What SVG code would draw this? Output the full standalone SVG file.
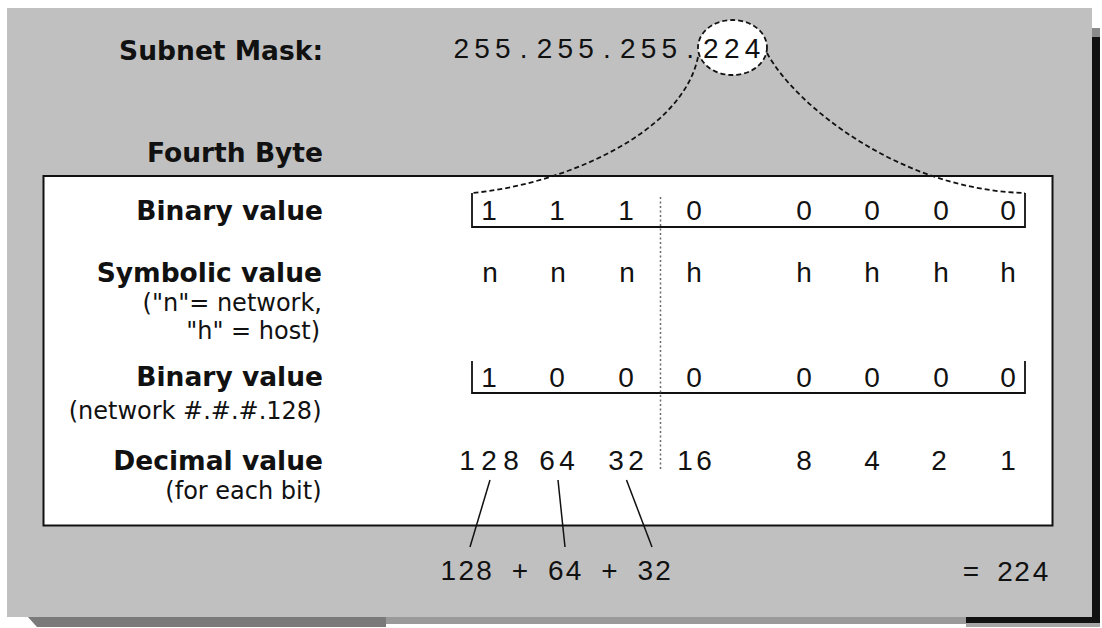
<svg xmlns="http://www.w3.org/2000/svg" width="1102" height="628" viewBox="0 0 1102 628">
  <style>
    .lbl { font-family: "DejaVu Sans", "Liberation Sans", sans-serif; font-weight: bold; font-size: 26.5px; fill: #111; text-anchor: end; }
    .sub { font-family: "DejaVu Sans", "Liberation Sans", sans-serif; font-size: 24px; fill: #111; text-anchor: end; }
    .num { font-family: "Liberation Sans", Arial, sans-serif; font-size: 28px; fill: #111; text-anchor: middle; }
    .dash { fill: none; stroke: #111; stroke-width: 1.8; stroke-dasharray: 5 3; }
    .solid { fill: none; stroke: #111; stroke-width: 1.8; }
    .thin { fill: none; stroke: #111; stroke-width: 1.5; }
    .dots { fill: none; stroke: #6a6a6a; stroke-width: 1.5; stroke-dasharray: 2 2.5; }
  </style>

  <rect width="1102" height="628" fill="#fff"/>

  <!-- drop shadow of the panel -->
  <g id="shadow">
    <rect x="1092" y="28" width="8" height="10" fill="#8a8a8a"/>
    <rect x="1092" y="37" width="8" height="586" fill="#111"/>
    <polygon points="27,616 386,616 386,627 37,627" fill="#7a7a7a"/>
    <rect x="386" y="616" width="580" height="8" fill="#9a9a9a"/>
    <rect x="966" y="622" width="134" height="5" fill="#a5a5a5"/>
    <rect x="966" y="616" width="134" height="7" fill="#111"/>
  </g>

  <!-- grey panel -->
  <rect id="panel" x="7" y="8" width="1085" height="609" fill="#c0c0c0"/>

  <!-- white table box -->
  <rect id="table" x="43.5" y="176" width="1009" height="349.5" fill="#fff" stroke="#111" stroke-width="2"/>

  <!-- subnet mask line -->
  <g id="mask">
    <text class="lbl" x="323" y="59.5" font-size="26.6">Subnet Mask:</text>
    <ellipse cx="732.5" cy="47.5" rx="34.5" ry="27.5" class="dash" style="fill:#fff"/>
    <text class="num" y="58" x="461.3 482.1 502.9 523.7 544.5 565.3 586.1 606.9 627.7 648.5 669.3 690.1 710.9 731.7 752.5">255.255.255.224</text>
  </g>

  <g id="fourth-byte">
    <text class="lbl" x="323" y="162">Fourth Byte</text>
  </g>

  <!-- row: binary value of the mask byte -->
  <g id="row-binary" class="num">
    <text class="lbl" x="323" y="220">Binary value</text>
    <text x="489" y="220">1</text>
    <text x="557" y="220">1</text>
    <text x="626" y="220">1</text>
    <text x="694" y="220">0</text>
    <text x="804" y="220">0</text>
    <text x="872" y="220">0</text>
    <text x="941" y="220">0</text>
    <text x="1008" y="220">0</text>
  </g>

  <!-- row: symbolic value -->
  <g id="row-symbolic" class="num">
    <text class="lbl" x="322" y="282">Symbolic value</text>
    <text class="sub" x="322" y="311">("n"= network,</text>
    <text class="sub" x="320" y="339">"h" = host)</text>
    <text x="490" y="282">n</text>
    <text x="558" y="282">n</text>
    <text x="627" y="282">n</text>
    <text x="694" y="282">h</text>
    <text x="804" y="282">h</text>
    <text x="872" y="282">h</text>
    <text x="941" y="282">h</text>
    <text x="1008" y="282">h</text>
  </g>

  <!-- row: binary value of the network -->
  <g id="row-network" class="num">
    <text class="lbl" x="323" y="386">Binary value</text>
    <text class="sub" x="321.5" y="419">(network #.#.#.128)</text>
    <text x="489" y="387">1</text>
    <text x="557" y="387">0</text>
    <text x="626" y="387">0</text>
    <text x="694" y="387">0</text>
    <text x="804" y="387">0</text>
    <text x="872" y="387">0</text>
    <text x="941" y="387">0</text>
    <text x="1008" y="387">0</text>
  </g>

  <!-- row: decimal weight of each bit -->
  <g id="row-decimal" class="num">
    <text class="lbl" x="323" y="470">Decimal value</text>
    <text class="sub" x="321.5" y="499">(for each bit)</text>
    <text y="470" x="467 489 511">128</text>
    <text y="470" x="547 567">64</text>
    <text y="470" x="616 636">32</text>
    <text y="470" x="685 704">16</text>
    <text x="804" y="470">8</text>
    <text x="872" y="470">4</text>
    <text x="939" y="470">2</text>
    <text x="1008" y="470">1</text>
  </g>

  <!-- sum line -->
  <g id="sum" class="num">
    <text y="580" x="448.3 466.2 484.1 502 519.9 537.8 555.7 573.6 591.5 609.4 627.3 645.2 663.1">128 + 64 + 32</text>
    <text y="581" x="971 988 1005 1022 1040.5">= 224</text>
  </g>

  <!-- connectors -->
  <g id="connectors">
    <path class="dash" d="M698 57 C682 135 560 185 472 193"/>
    <path class="dash" d="M767 53 C795 105 900 190 1025 193"/>
    <path class="solid" d="M472 193 V227 H1025 V193"/>
    <path class="solid" d="M472 361 V393 H1025 V361"/>
    <path class="dots" d="M660.5 197 V470"/>
    <path class="thin" d="M490 480 L470 547"/>
    <path class="thin" d="M558 480 L565 547"/>
    <path class="thin" d="M626.5 480 L652 547"/>
  </g>
</svg>
